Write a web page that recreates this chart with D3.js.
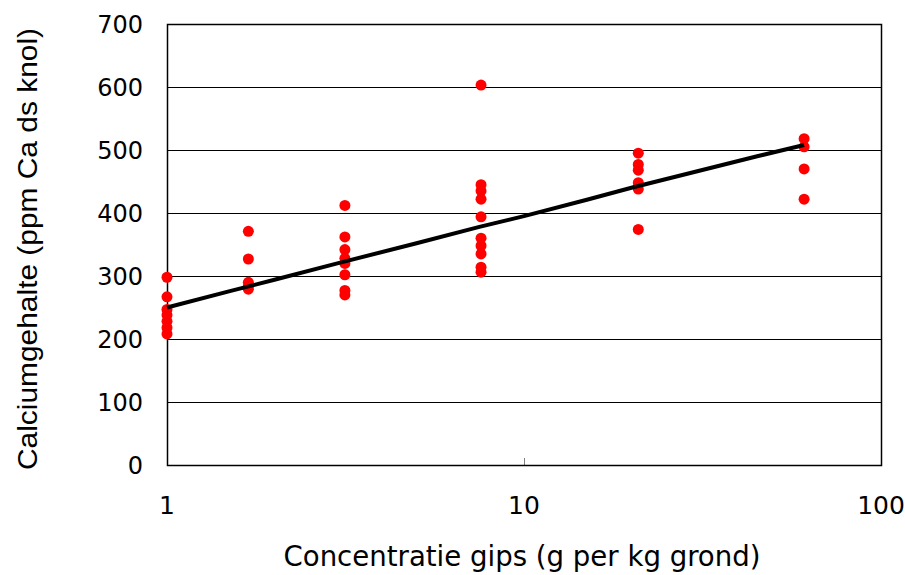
<!DOCTYPE html>
<html>
<head>
<meta charset="utf-8">
<script src="https://cdn.jsdelivr.net/npm/d3@7"></script>
<style>
  html, body { margin: 0; padding: 0; background: #fff; }
  svg { display: block; }
</style>
</head>
<body>
<svg id="chart" width="905" height="575"></svg>
<script>
// Measured points: concentration (g gips per kg grond) and calcium content (ppm Ca ds knol)
const doseX = [1, 1, 1, 1, 1, 1, 1,
               1.69, 1.69, 1.69, 1.69, 1.69,
               3.15, 3.15, 3.15, 3.15, 3.15, 3.15, 3.15, 3.15,
               7.58, 7.58, 7.58, 7.58, 7.58, 7.58, 7.58, 7.58, 7.58, 7.58,
               20.9, 20.9, 20.9, 20.9, 20.9, 20.9,
               60.9, 60.9, 60.9, 60.9];
const calcium = [298, 267, 247, 238, 228, 218, 208,
                 371, 327, 290, 284, 279,
                 412, 362, 342, 328, 320, 302, 277, 270,
                 603, 445, 435, 422, 394, 360, 348, 335, 314, 306,
                 495, 477, 468, 448, 438, 374,
                 518, 505, 470, 422];

// Trend line
const trendX = [1, 1.5, 2, 3, 5, 7.5, 10, 15, 20, 30, 45, 60.9];
const trendY = [250, 276, 294, 320, 352, 378, 395, 421, 440, 465, 490, 508];

const xTicks = [1, 10, 100];
const yTicks = [0, 100, 200, 300, 400, 500, 600, 700];
const xTitle = "Concentratie gips (g per kg grond)";
const yTitle = "Calciumgehalte (ppm Ca ds knol)";

const svg = d3.select("#chart");
const L = 167, R = 881, T = 24, B = 465;

const x = d3.scaleLog().domain([1, 100]).range([L, R]);
const y = d3.scaleLinear().domain([0, 700]).range([B, T]);
const crisp = v => Math.round(v) + 0.5;

// gridlines
svg.append("g").selectAll("line").data(yTicks).join("line")
  .attr("x1", L).attr("x2", R)
  .attr("y1", d => crisp(y(d))).attr("y2", d => crisp(y(d)))
  .attr("stroke", "#000").attr("stroke-width", 1);

// inner ticks on x axis
svg.append("g").selectAll("line").data(xTicks).join("line")
  .attr("x1", d => crisp(x(d))).attr("x2", d => crisp(x(d)))
  .attr("y1", B).attr("y2", B - 7)
  .attr("stroke", "#808080").attr("stroke-width", 1);

// frame
svg.append("rect").attr("x", crisp(L)).attr("y", crisp(T))
  .attr("width", Math.round(R - L)).attr("height", Math.round(B - T))
  .attr("fill", "none").attr("stroke", "#000").attr("stroke-width", 1.5);

// y labels
svg.append("g").selectAll("text").data(yTicks).join("text")
  .attr("x", 143).attr("y", d => y(d))
  .attr("dy", "0.36em")
  .attr("text-anchor", "end")
  .attr("font-family", "'DejaVu Sans', sans-serif")
  .attr("font-size", 24)
  .attr("fill", "#000")
  .text(d => d);

// x labels
svg.append("g").selectAll("text").data(xTicks).join("text")
  .attr("x", d => x(d)).attr("y", 514)
  .attr("text-anchor", "middle")
  .attr("font-family", "'DejaVu Sans', sans-serif")
  .attr("font-size", 25)
  .attr("fill", "#000")
  .text(d => d);

// points
svg.append("g").selectAll("circle").data(doseX.map((d, i) => [d, calcium[i]])).join("circle")
  .attr("cx", d => x(d[0])).attr("cy", d => y(d[1]))
  .attr("r", 5.5).attr("fill", "#ff0000");

// trend line
const line = d3.line().x(d => x(d[0])).y(d => y(d[1]));
svg.append("path").datum(trendX.map((d, i) => [d, trendY[i]]))
  .attr("d", line).attr("fill", "none")
  .attr("stroke", "#000").attr("stroke-width", 4).attr("stroke-linejoin", "round");

// axis titles
svg.append("text")
  .attr("x", 522).attr("y", 566)
  .attr("text-anchor", "middle")
  .attr("font-family", "'Liberation Sans Narrow', 'DejaVu Sans Condensed', sans-serif")
  .attr("font-size", 28)
  .attr("textLength", 477).attr("lengthAdjust", "spacingAndGlyphs")
  .attr("fill", "#000")
  .text(xTitle);

svg.append("text")
  .attr("transform", "translate(37,249) rotate(-90)")
  .attr("text-anchor", "middle")
  .attr("font-family", "'Liberation Sans', Arial, sans-serif")
  .attr("font-size", 27)
  .attr("textLength", 442).attr("lengthAdjust", "spacingAndGlyphs")
  .attr("fill", "#000")
  .text(yTitle);
</script>
</body>
</html>
